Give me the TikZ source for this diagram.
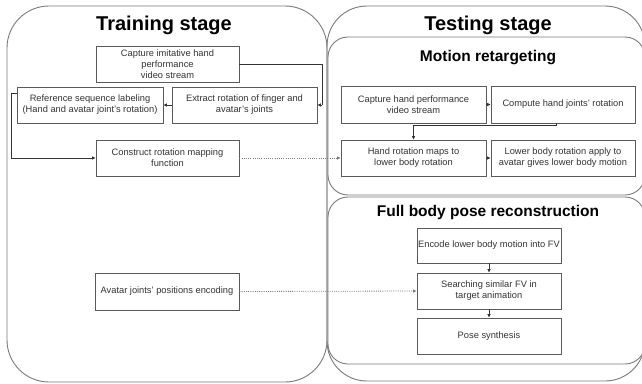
\documentclass[tikz,border=0pt]{standalone}
\usepackage{fontspec}
\setmainfont{Liberation Sans}
\usetikzlibrary{arrows.meta,calc}
\definecolor{edgegray}{HTML}{7A7A7A}
\definecolor{boxgray}{HTML}{5A5A5A}
\definecolor{txtgray}{HTML}{333333}
\tikzset{
  stage/.style={draw=edgegray, line width=0.9pt},
  stagetitle/.style={anchor=base, font=\bfseries\fontsize{20}{24}\selectfont, text=black, inner sep=0},
  subtitle/.style={anchor=base, font=\bfseries\fontsize{15.5}{18}\selectfont, text=black, inner sep=0},
  stepbox/.style={draw=boxgray, line width=0.8pt, fill=white, align=center,
    font=\fontsize{9.3}{11}\selectfont, text=txtgray, inner sep=0,
    minimum height=36pt, minimum width=#1},
  stepbox/.default=144pt,
  arr/.style={draw=txtgray, line width=0.7pt, -{Latex[length=3.5pt,width=3.5pt]}},
  dotarr/.style={draw=edgegray, line width=0.8pt, dash pattern=on 1pt off 1.2pt, -{Latex[length=3.5pt,width=3.5pt]}},
  link/.style={draw=txtgray, line width=0.7pt}
}
\begin{document}
\begin{tikzpicture}[x=1pt,y=-1pt]
\useasboundingbox (0,0) rectangle (642,383);
\fill[white] (0,0) rectangle (642,383);

% stage containers
\draw[stage, rounded corners=42pt] (7,6) rectangle (327,382);
\begin{scope}
\clip (0,0) rectangle (642,383);
\draw[stage, rounded corners=40pt] (327,6) rectangle (645,381);
\draw[stage, rounded corners=20pt] (328,37) rectangle (645,195);
\draw[stage, rounded corners=20pt] (328,197) rectangle (645,364);
\end{scope}

% titles
\node[stagetitle] (ttrain) at (164,30) {Training stage};
\node[stagetitle] (ttest) at (488,30) {Testing stage};
\node[subtitle] (tmr) at (488,61) {Motion retargeting};
\node[subtitle] (tfb) at (488,216) {Full body pose reconstruction};

% training stage steps
\node[stepbox=143pt] (cap1) at (167.5,64) {Capture imitative hand\\performance\\video stream};
\node[stepbox=146pt] (refl) at (90,105) {Reference sequence labeling\\(Hand and avatar joint's rotation)};
\node[stepbox=145pt] (extr) at (244.5,105) {Extract rotation of finger and\\avatar's joints};
\node[stepbox=143pt] (cons) at (167.5,158) {Construct rotation mapping\\function};
\node[stepbox=144pt, minimum height=37pt] (avat) at (167,291.5) {Avatar joints' positions encoding};

% motion retargeting steps
\node[stepbox=145pt, minimum height=37pt] (caph) at (413.5,104.5) {Capture hand performance\\video stream};
\node[stepbox=144pt, minimum height=37pt] (comp) at (563,104.5) {Compute hand joints' rotation};
\node[stepbox=145pt] (hmap) at (413.5,158) {Hand rotation maps to\\lower body rotation};
\node[stepbox=144pt] (lowb) at (563,158) {Lower body rotation apply to\\avatar gives lower body motion};

% full body pose reconstruction steps
\node[stepbox=144pt, minimum height=35pt] (enc) at (489,245.5) {Encode lower body motion into FV};
\node[stepbox=144pt] (srch) at (489,291) {Searching similar FV in\\target animation};
\node[stepbox=144pt] (pose) at (489,336) {Pose synthesis};

% training connectors
\coordinate (capbend) at ($(extr.east)+(5,0)$);
\draw[link] (cap1.east) -| (capbend);
\draw[arr] (capbend) -- (extr.east);
\draw[arr] (extr.west) -- (refl.east);
\coordinate (reflout) at ($(refl.north west)+(0,7)$);
\draw[arr] (reflout) -- ++(-5,0) |- (cons.west);

% cross-stage links
\draw[dotarr] (cons.east) -- (hmap.west);
\draw[dotarr] (avat.east) -- (srch.west);

% motion retargeting connectors
\draw[arr] (caph.east) -- (comp.west);
\coordinate (compout) at ($(comp.south)+(-7,0)$);
\draw[arr] (compout) -- ++(0,2) -| (hmap.north);
\draw[arr] (hmap.east) -- (lowb.west);

% full body connectors
\draw[arr] (enc.south) -- (srch.north);
\draw[arr] (srch.south) -- (pose.north);
\end{tikzpicture}
\end{document}
